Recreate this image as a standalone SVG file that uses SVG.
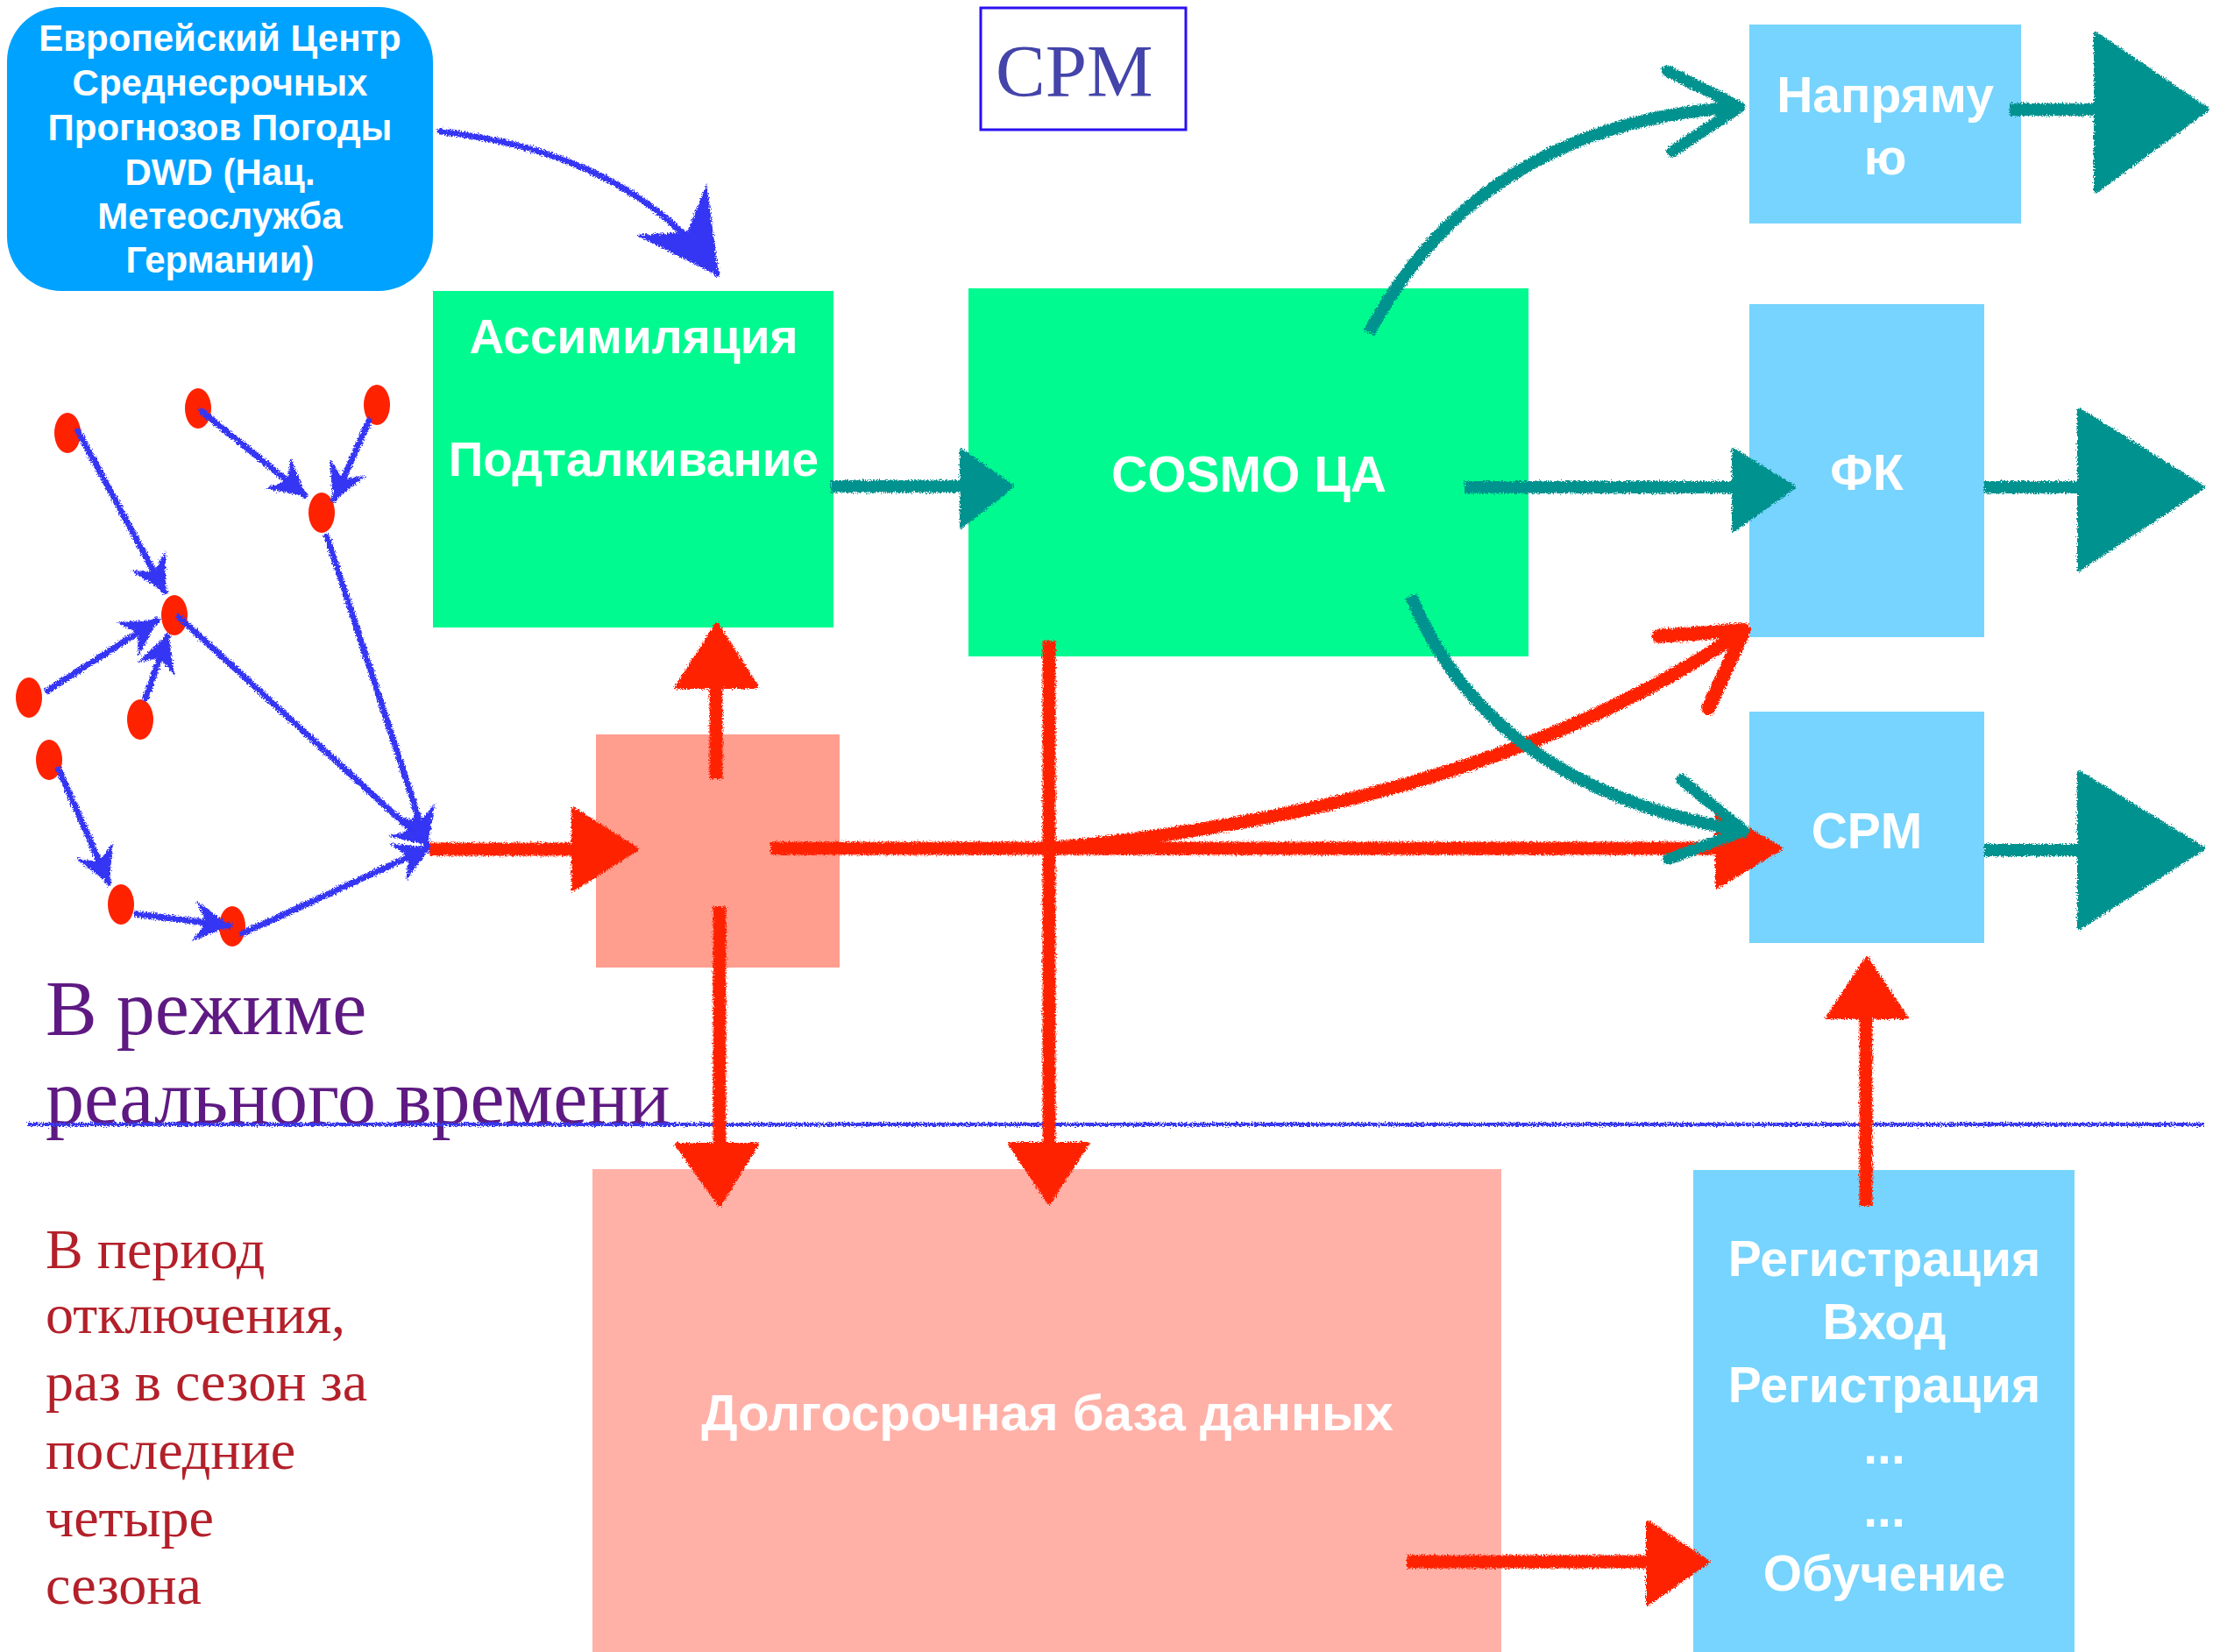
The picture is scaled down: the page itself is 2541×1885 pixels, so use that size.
<svg xmlns="http://www.w3.org/2000/svg" width="2541" height="1885" viewBox="0 0 2541 1885">
<style>
.lbl{font-family:"Liberation Sans","Noto Sans",Arial,sans-serif;font-weight:bold;fill:#ffffff;text-anchor:middle}
.ser{font-family:"Liberation Serif","DejaVu Serif",serif}
.blu{fill:none;stroke:#3434F4;stroke-width:7;stroke-linecap:round}
.red{fill:none;stroke:#FF2400;stroke-width:15;stroke-linecap:butt}
.redf{fill:#FF2400;stroke:#FF2400;stroke-width:4;stroke-linejoin:round}
.teal{fill:none;stroke:#00928F;stroke-width:14}
.tealf{fill:#00928F;stroke:#00928F;stroke-width:4;stroke-linejoin:round}
.dot{fill:#FF2200}
</style>
<defs>
<filter id="rough" filterUnits="userSpaceOnUse" x="0" y="0" width="2541" height="1885">
<feTurbulence type="fractalNoise" baseFrequency="0.6" numOctaves="2" seed="4" result="n"/>
<feDisplacementMap in="SourceGraphic" in2="n" scale="7" xChannelSelector="R" yChannelSelector="G"/>
</filter>
<marker id="bsm" markerUnits="userSpaceOnUse" viewBox="-50 -30 60 60" refX="0" refY="0" markerWidth="60" markerHeight="60" orient="auto">
<path d="M2,0 L-40,-23 L-26,0 L-40,23 Z" fill="#3434F4"/>
</marker>
<marker id="bbig" markerUnits="userSpaceOnUse" viewBox="-110 -70 130 140" refX="0" refY="0" markerWidth="130" markerHeight="140" orient="auto">
<path d="M4,0 L-90,-50 L-58,0 L-90,50 Z" fill="#3434F4"/>
</marker>
<marker id="tch" markerUnits="userSpaceOnUse" viewBox="-110 -70 130 140" refX="0" refY="0" markerWidth="130" markerHeight="140" orient="auto">
<path d="M-80,-46 L0,0 L-80,46" fill="none" stroke="#00928F" stroke-width="13" stroke-linecap="round" stroke-linejoin="round"/>
</marker>
<marker id="rch" markerUnits="userSpaceOnUse" viewBox="-110 -70 130 140" refX="0" refY="0" markerWidth="130" markerHeight="140" orient="auto">
<path d="M-84,-50 L0,0 L-84,50" fill="none" stroke="#FF2400" stroke-width="16" stroke-linecap="round" stroke-linejoin="round"/>
</marker>
</defs>
<rect width="2541" height="1885" fill="#ffffff"/>

<g id="ecmwf">
<rect x="8" y="8" width="486" height="324" rx="62" fill="#00A2FF"/>
<text class="lbl" font-size="42" x="251"><tspan x="251" y="58">Европейский Центр</tspan><tspan x="251" y="109">Среднесрочных</tspan><tspan x="251" y="160">Прогнозов Погоды</tspan><tspan x="251" y="211">DWD (Нац.</tspan><tspan x="251" y="261">Метеослужба</tspan><tspan x="251" y="311">Германии)</tspan></text>
</g>

<g id="title">
<rect x="1119" y="9" width="234" height="139" fill="none" stroke="#2A10F0" stroke-width="3"/>
<text class="ser" x="1136" y="110" font-size="85" fill="#4444AA">CPM</text>
</g>

<g id="assim">
<rect x="494" y="332" width="457" height="384" fill="#00FA90"/>
<text class="lbl" font-size="55" x="723" y="403">Ассимиляция</text>
<text class="lbl" font-size="55" x="723" y="543">Подталкивание</text>
</g>

<g id="cosmo">
<rect x="1105" y="329" width="639" height="420" fill="#00FA90"/>
<text class="lbl" font-size="57" x="1425" y="561">COSMO ЦА</text>
</g>

<g id="direct">
<rect x="1996" y="28" width="310" height="227" fill="#76D4FE"/>
<text class="lbl" font-size="57" x="2151" y="128">Напряму</text>
<text class="lbl" font-size="57" x="2151" y="199">ю</text>
</g>

<g id="fk">
<rect x="1996" y="347" width="268" height="380" fill="#76D4FE"/>
<text class="lbl" font-size="57" x="2130" y="559">ФК</text>
</g>

<g id="cpm">
<rect x="1996" y="812" width="268" height="264" fill="#76D4FE"/>
<text class="lbl" font-size="57" x="2130" y="968">CPM</text>
</g>

<g id="registration">
<rect x="1932" y="1335" width="435" height="550" fill="#76D4FE"/>
<text class="lbl" font-size="57"><tspan x="2150" y="1456">Регистрация</tspan><tspan x="2150" y="1528">Вход</tspan><tspan x="2150" y="1600">Регистрация</tspan><tspan x="2150" y="1670">...</tspan><tspan x="2150" y="1742">...</tspan><tspan x="2150" y="1815">Обучение</tspan></text>
</g>

<g id="hub">
<rect x="680" y="838" width="278" height="266" fill="#FF9D8E"/>
</g>

<g id="database">
<rect x="676" y="1334" width="1037" height="551" fill="#FFB1A8"/>
<text class="lbl" font-size="58" x="1195" y="1632">Долгосрочная база данных</text>
</g>

<g id="realtime-label">
<text class="ser" font-size="88" fill="#5E1A82"><tspan x="52" y="1180">В режиме</tspan><tspan x="52" y="1282">реального времени</tspan></text>
</g>

<g id="offline-label">
<text class="ser" font-size="64" fill="#B3202A"><tspan x="52" y="1447">В период</tspan><tspan x="52" y="1521">отключения,</tspan><tspan x="52" y="1598">раз в сезон за</tspan><tspan x="52" y="1676">последние</tspan><tspan x="52" y="1753">четыре</tspan><tspan x="52" y="1830">сезона</tspan></text>
</g>

<g id="stations">
<ellipse id="st1" class="dot" cx="77" cy="494" rx="15" ry="23"/>
<ellipse id="st2" class="dot" cx="226" cy="466" rx="15" ry="23"/>
<ellipse id="st3" class="dot" cx="430" cy="462" rx="15" ry="23"/>
<ellipse id="st4" class="dot" cx="367" cy="585" rx="15" ry="23"/>
<ellipse id="st5" class="dot" cx="199" cy="702" rx="15" ry="23"/>
<ellipse id="st6" class="dot" cx="33" cy="796" rx="15" ry="23"/>
<ellipse id="st7" class="dot" cx="160" cy="821" rx="15" ry="23"/>
<ellipse id="st8" class="dot" cx="56" cy="867" rx="15" ry="23"/>
<ellipse id="st9" class="dot" cx="138" cy="1032" rx="15" ry="23"/>
<ellipse id="st10" class="dot" cx="265" cy="1057" rx="15" ry="23"/>
</g>

<g id="connectors" filter="url(#rough)">
<line x1="32" y1="1283" x2="2515" y2="1283" stroke="#3838EE" stroke-width="4"/>
<path class="blu" d="M89,492 L188,675" marker-end="url(#bsm)"/>
<path class="blu" d="M230,469 L348,565" marker-end="url(#bsm)"/>
<path class="blu" d="M421,480 L381,570" marker-end="url(#bsm)"/>
<path class="blu" d="M54,788 L179,708" marker-end="url(#bsm)"/>
<path class="blu" d="M166,797 L191,726" marker-end="url(#bsm)"/>
<path class="blu" d="M67,878 L124,1007" marker-end="url(#bsm)"/>
<path class="blu" d="M156,1043 L261,1056" marker-end="url(#bsm)"/>
<path class="blu" d="M277,1065 L490,967" marker-end="url(#bsm)"/>
<path class="blu" d="M204,704 L488,964" marker-end="url(#bsm)"/>
<path class="blu" d="M373,612 L487,962" marker-end="url(#bsm)"/>
<path class="blu" d="M502,150 Q720,175 818,312" stroke-width="16" marker-end="url(#bbig)"/>

<path class="red" d="M490,969 L660,969"/>
<polygon class="redf" points="654,923 727,969 654,1015"/>
<path class="red" d="M817,889 L817,782"/>
<polygon class="redf" points="772,784 864,784 818,712"/>
<path class="red" d="M821,1034 L821,1310"/>
<polygon class="redf" points="772,1306 864,1306 821,1375"/>
<path class="red" d="M879,968 L1965,968"/>
<polygon class="redf" points="1959,925 2032,968 1959,1012"/>
<path class="red" d="M1197,731 L1197,1310"/>
<polygon class="redf" points="1152,1305 1241,1305 1197,1373"/>
<path class="red" d="M1605,1782 L1885,1782"/>
<polygon class="redf" points="1880,1737 1949,1782 1880,1830"/>
<path class="red" d="M2129,1376 L2129,1155" stroke-width="12"/>
<polygon class="redf" points="2085,1161 2175,1161 2130,1093"/>
<path class="red" d="M1200,968 Q1700,920 1990,719" marker-end="url(#rch)"/>

<path class="teal" d="M948,555 L1100,555"/>
<polygon class="tealf" points="1097,514 1155,555 1097,601"/>
<path class="teal" d="M1671,556 L1982,556"/>
<polygon class="tealf" points="1978,513 2047,556 1978,605"/>
<path class="teal" d="M1562,380 Q1690,140 1985,122" stroke-width="12" marker-end="url(#tch)"/>
<path class="teal" d="M1610,680 Q1700,900 1990,948" stroke-width="12" marker-end="url(#tch)"/>
<path class="teal" d="M2293,125 L2395,125" stroke-width="32"/>
<polygon class="tealf" points="2391,38 2519,125 2391,219"/>
<path class="teal" d="M2264,556 L2376,556" stroke-width="32"/>
<polygon class="tealf" points="2372,467 2514,556 2372,650"/>
<path class="teal" d="M2264,970 L2376,970" stroke-width="32"/>
<polygon class="tealf" points="2372,881 2514,968 2372,1059"/>
</g>
</svg>
